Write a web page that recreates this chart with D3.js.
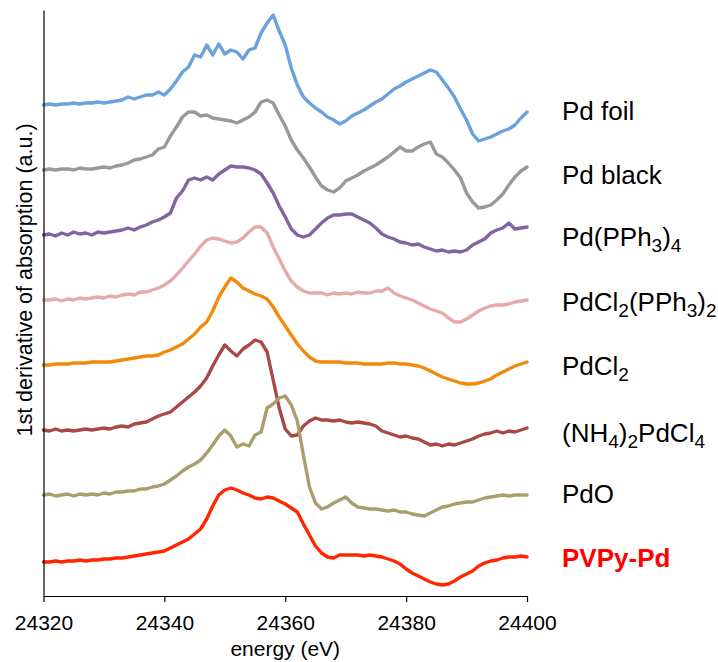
<!DOCTYPE html>
<html>
<head>
<meta charset="utf-8">
<script src="https://cdn.jsdelivr.net/npm/d3@7/dist/d3.min.js"></script>
<style>
body { margin: 0; background: #fff; }
svg text { font-family: "Liberation Sans", Arial, Helvetica, sans-serif; fill: #000; }
</style>
</head>
<body>
<script>
// energy grid (eV), one point per eV
var energy = d3.range(24320, 24401, 1);

// 1st derivative of absorption, offset stacked (a.u. x 10)
var pdFoil = [495,496,495,496,496,497,496,497,497,498, 497,498,499,500,503,501,503,505,505,508,
    505,511,519,528,533,545,543,555,545,556, 546,550,548,541,550,552,567,577,585,569,
    555,532,515,503,497,492,488,483,480,476, 479,484,487,490,494,498,501,506,511,514,
    518,521,524,527,530,528,520,512,503,491, 480,466,459,461,463,466,469,471,475,482, 488];
var pdBlack = [430,431,430,431,431,430,432,431,431,432, 433,432,434,435,437,440,441,443,445,451,
    453,464,473,483,488,488,484,485,482,481, 480,479,477,480,483,488,498,500,497,485,
    474,460,450,442,433,423,414,410,408,412, 419,422,425,429,432,435,439,443,448,453,
    449,449,453,456,458,446,443,437,430,422, 407,398,392,393,395,400,406,415,423,429, 433];
var pdPPh3 = [365,366,364,367,365,368,366,367,365,368, 367,368,369,370,372,370,373,375,378,380,
    383,387,402,409,420,422,420,423,420,426, 430,434,433,433,432,430,426,417,407,394,
    383,371,365,363,365,371,377,382,385,385, 386,386,383,380,377,372,366,363,361,358,
    357,355,356,353,351,349,350,348,349,348, 350,355,358,361,367,370,372,377,371,372, 373];
var pdCl2PPh3 = [300,300,301,299,301,300,302,301,302,303, 302,304,303,305,306,305,308,308,310,312,
    315,319,325,332,339,346,354,360,362,361, 359,357,358,362,368,373,373,367,353,341,
    329,319,313,309,307,307,307,305,307,306, 307,306,308,307,307,309,309,312,307,304,
    302,300,297,294,291,289,287,282,278,278, 281,285,289,292,294,295,295,296,298,299, 300];
var pdCl2 = [235,235,236,236,236,237,237,237,238,238, 238,238,239,240,241,242,243,244,244,245,
    248,250,253,256,261,266,273,278,289,303, 313,322,318,312,309,306,304,301,293,283,
    274,265,256,249,243,239,238,238,238,238, 237,237,237,236,236,236,236,237,237,236,
    236,235,234,232,229,226,223,221,219,217, 216,216,217,219,221,225,228,231,234,236, 238];
var nh4PdCl4 = [170,169,171,169,170,169,170,171,170,171, 172,171,173,174,173,176,177,178,181,184,
    186,188,193,198,203,208,214,222,234,245, 255,249,244,251,255,260,258,248,220,192,
    171,164,165,174,179,182,180,180,179,180, 178,177,178,177,176,174,169,167,165,163,
    164,162,161,158,155,156,154,156,155,157, 159,161,164,166,167,169,167,169,168,170, 172];
var pdO = [105,106,104,105,106,104,106,105,106,105, 107,106,108,108,109,109,111,111,113,114,
    116,120,124,129,133,136,140,147,155,164, 170,164,153,156,154,165,168,192,196,202,
    204,195,179,145,113,97,91,93,97,100, 103,97,93,92,91,91,90,89,90,88,
    88,86,85,84,87,90,93,94,96,97, 98,98,100,102,103,104,105,104,105,105, 105];
var pvpyPd = [38,38,39,38,39,39,40,39,40,40, 41,41,42,42,43,44,45,46,47,48,
    49,52,55,58,61,66,71,81,94,105, 110,112,110,107,105,102,101,103,102,99,
    96,92,88,76,65,54,47,43,42,45, 45,45,45,44,45,44,43,41,39,36,
    31,27,24,21,18,16,15,16,19,23, 26,29,34,37,39,40,42,43,43,44, 43];

var sampleValues = [pdFoil, pdBlack, pdPPh3, pdCl2PPh3, pdCl2, nh4PdCl4, pdO, pvpyPd];

// legend names: [text, subscript?]
var sampleNames = [
    [["Pd foil", 0]],
    [["Pd black", 0]],
    [["Pd(PPh", 0], ["3", 1], [")", 0], ["4", 1]],
    [["PdCl", 0], ["2", 1], ["(PPh", 0], ["3", 1], [")", 0], ["2", 1]],
    [["PdCl", 0], ["2", 1]],
    [["(", 0], ["NH", 0], ["4", 1], [")", 0], ["2", 1], ["PdCl", 0], ["4", 1]],
    [["PdO", 0]],
    [["PVPy-Pd", 0]]
];

var xTicks = [24320, 24340, 24360, 24380, 24400];

// styling
var colors = ["#6aa2de", "#999999", "#8164a3", "#e6aba8", "#f08b0c", "#aa4944", "#a99f6c", "#ff2600"];
var labelBaselines = [119.5, 183.5, 246, 310.5, 375, 442, 503, 567];

var width = 718, height = 662;
var plot = { left: 43.5, right: 527, top: 10, bottom: 596 };

var svg = d3.select("body").append("svg")
    .attr("width", width)
    .attr("height", height);

var xScale = d3.scaleLinear().domain([24320, 24400]).range([plot.left, plot.right]);
var yScale = d3.scaleLinear().domain([4, 590]).range([plot.bottom, plot.top]);

var line = d3.line()
    .x(function (d, i) { return xScale(energy[i]); })
    .y(function (d) { return yScale(d); });

// curves
svg.append("g").selectAll("path")
    .data(sampleValues)
    .enter().append("path")
    .attr("d", line)
    .attr("fill", "none")
    .attr("stroke", function (d, i) { return colors[i]; })
    .attr("stroke-width", 3.4)
    .attr("stroke-linejoin", "round")
    .attr("stroke-linecap", "round");

// x axis
var xAxis = svg.append("g")
    .attr("transform", "translate(0," + plot.bottom + ")")
    .call(d3.axisBottom(xScale)
        .tickValues(xTicks)
        .tickFormat(d3.format("d"))
        .tickSizeInner(6)
        .tickSizeOuter(0)
        .tickPadding(13));
xAxis.select(".domain").attr("stroke", "#000").attr("stroke-width", 1.2);
xAxis.selectAll(".tick line").attr("stroke", "#000").attr("stroke-width", 1.2);
xAxis.selectAll(".tick text")
    .style("font-size", "21px")
    .style("font-family", "'Liberation Sans', Arial, sans-serif")
    .attr("fill", "#000");

// y axis, line only
var yAxis = svg.append("g")
    .attr("transform", "translate(" + plot.left + ",0)")
    .call(d3.axisLeft(yScale).tickValues([]).tickSizeOuter(0));
yAxis.select(".domain").attr("stroke", "#000").attr("stroke-width", 1.2);

// axis titles
svg.append("text")
    .attr("x", (plot.left + plot.right) / 2)
    .attr("y", 656)
    .attr("text-anchor", "middle")
    .style("font-size", "21px")
    .text("energy (eV)");

svg.append("text")
    .attr("transform", "rotate(-90)")
    .attr("x", -280)
    .attr("y", 32)
    .attr("text-anchor", "middle")
    .style("font-size", "21.5px")
    .text("1st derivative of absorption (a.u.)");

// sample labels
sampleNames.forEach(function (parts, i) {
    var t = svg.append("text")
        .attr("x", 562)
        .attr("y", labelBaselines[i])
        .style("font-size", "26px");
    if (i === sampleNames.length - 1) {
        t.style("font-weight", "bold").style("fill", "#ff0000");
    }
    var shifted = false;
    parts.forEach(function (p) {
        var s = t.append("tspan").text(p[0]);
        if (p[1] && !shifted) { s.attr("dy", 6); shifted = true; }
        else if (!p[1] && shifted) { s.attr("dy", -6); shifted = false; }
        if (p[1]) s.style("font-size", "19px");
    });
});
</script>
</body>
</html>
